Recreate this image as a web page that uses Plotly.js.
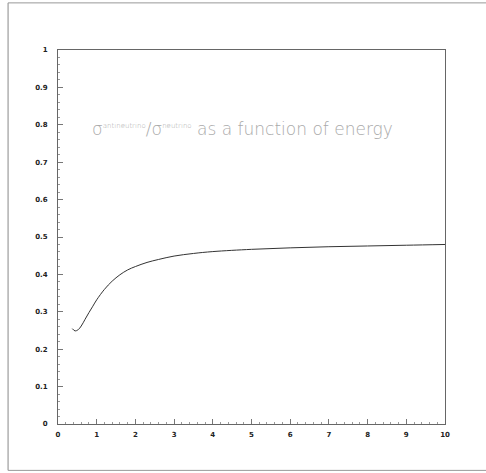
<!DOCTYPE html>
<html>
<head>
<meta charset="utf-8">
<script src="https://cdn.plot.ly/plotly-3.0.1.min.js"></script>
<style>html,body{margin:0;padding:0;background:#fff;}#chart{width:486px;height:473px;}</style>
</head>
<body>
<div id="chart"></div>
<script>
const energy = [0.37, 0.44, 0.52, 0.6, 0.7, 0.8, 0.9, 1.0, 1.2, 1.4, 1.6, 1.8, 2.0, 2.3, 2.6, 3.0, 3.5, 4, 5, 6, 7, 8, 9, 10];
const ratio  = [0.255, 0.249, 0.252, 0.262, 0.280, 0.298, 0.315, 0.332, 0.360, 0.382, 0.399, 0.412, 0.421, 0.432, 0.440, 0.449, 0.456, 0.461, 0.467, 0.471, 0.474, 0.476, 0.478, 0.480];
const xTicks = [0,1,2,3,4,5,6,7,8,9,10];
const xTickLabels = ["0","1","2","3","4","5","6","7","8","9","10"];
const yTicks = [0,0.1,0.2,0.3,0.4,0.5,0.6,0.7,0.8,0.9,1];
const yTickLabels = ["0","0.1","0.2","0.3","0.4","0.5","0.6","0.7","0.8","0.9","1"];
const titleText = "σ<sup><span style=\"font-size:7px\">antineutrino</span></sup>/σ<sup><span style=\"font-size:7px\">neutrino</span></sup> as a function of energy";

const tickFont = {family: "DejaVu Sans", size: 7, color: "#222", weight: "bold"};
const axisCommon = {
  showgrid: false, zeroline: false, showline: true, mirror: true,
  linecolor: "#666", linewidth: 1,
  ticks: "inside", ticklen: 5, tickcolor: "#777", tickwidth: 1,
  tickfont: tickFont, tickmode: "array"
};

Plotly.newPlot("chart", [{
  x: energy, y: ratio, type: "scatter", mode: "lines",
  line: {color: "#333", width: 1, shape: "spline"}, hoverinfo: "skip"
}], {
  width: 486, height: 473,
  margin: {l: 58, r: 41, t: 50, b: 49},
  paper_bgcolor: "#fff", plot_bgcolor: "#fff",
  showlegend: false,
  xaxis: Object.assign({}, axisCommon, {
    range: [0, 10], tickvals: xTicks, ticktext: xTickLabels, ticklabelstandoff: 4,
    minor: {dtick: 0.2, ticks: "inside", ticklen: 2, tickcolor: "#999"}
  }),
  yaxis: Object.assign({}, axisCommon, {
    range: [0, 1], tickvals: yTicks, ticktext: yTickLabels, ticklabelstandoff: 8,
    minor: {dtick: 0.02, ticks: "inside", ticklen: 2, tickcolor: "#999"}
  }),
  annotations: [{
    xref: "paper", yref: "paper", x: 0.478, y: 0.821,
    text: titleText, showarrow: false,
    font: {family: "DejaVu Sans", size: 17, color: "#aaa", weight: 300}
  }],
  shapes: [
    {type: "line", xref: "paper", yref: "paper", x0: -0.129, x1: -0.129, y0: -0.124, y1: 1.126, line: {color: "#888", width: 1}},
    {type: "line", xref: "paper", yref: "paper", x0: -0.129, x1: 1.106, y0: 1.126, y1: 1.126, line: {color: "#999", width: 1}},
    {type: "line", xref: "paper", yref: "paper", x0: -0.129, x1: 1.106, y0: -0.124, y1: -0.124, line: {color: "#999", width: 1}}
  ]
}, {displayModeBar: false, staticPlot: true});
</script>
</body>
</html>
